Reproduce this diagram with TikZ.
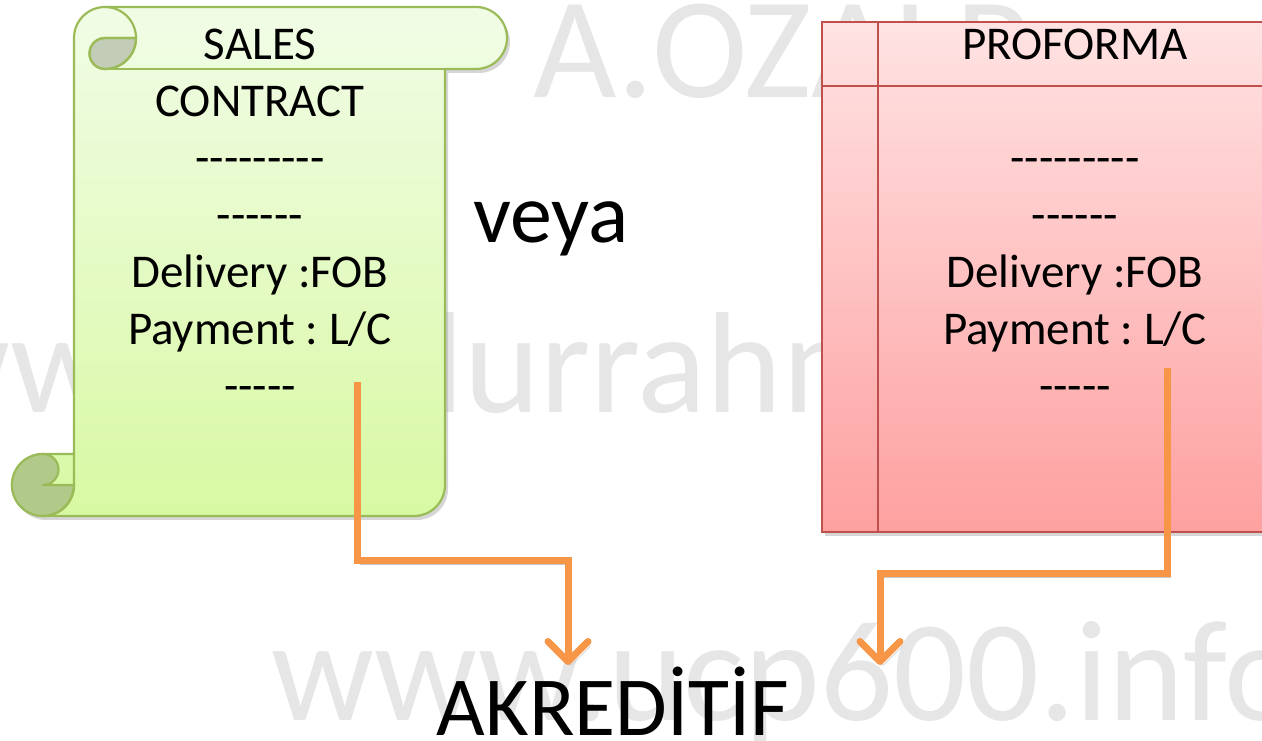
\documentclass[tikz,border=0pt]{standalone}
\usepackage{fontspec}
\newfontfamily\docfont{Carlito}
\usetikzlibrary{arrows.meta,positioning,calc}
\definecolor{scrollline}{RGB}{155,187,89}
\definecolor{scrolltop}{RGB}{241,252,230}
\definecolor{scrollbot}{RGB}{216,249,163}
\definecolor{curltop}{RGB}{195,204,183}
\definecolor{curlbot}{RGB}{177,201,137}
\definecolor{pfline}{RGB}{192,80,77}
\definecolor{pftop}{RGB}{255,227,227}
\definecolor{pfbot}{RGB}{254,160,160}
\definecolor{flowcol}{RGB}{247,150,70}
\definecolor{wmcol}{RGB}{230,230,230}
\newcommand{\doctext}{\docfont\frenchspacing\fontsize{47}{57}\selectfont}
\newcommand{\bigtext}{\docfont\fontsize{84}{84}\selectfont}

\begin{document}
\begin{tikzpicture}[x=1pt,y=1pt,
  wmark/.style={anchor=base west,inner sep=0,text=wmcol,font=\docfont\fontsize{144}{144}\selectfont},
  doc/.style={anchor=base,inner sep=0,align=center,font=\doctext},
  shadowed/.style={preaction={fill=black!40,opacity=.4,transform canvas={shift={(3,-4)}}}},
  scroll/.style={draw=scrollline,line width=2.2,line join=round},
  pform/.style={draw=pfline,line width=2.2},
  flow/.style={draw=flowcol,line width=7,line join=miter,
    -{Straight Barb[length=20pt,width=40pt,line cap=round,line join=round]},
    preaction={draw=black!22,transform canvas={shift={(3,-4)}}}}]
\useasboundingbox (0,0) rectangle (1262,740);
\clip (0,0) rectangle (1262,740);
\fill[white] (0,0) rectangle (1262,740);
% watermarks
\node[wmark] (wm1) at (533,642) {A.OZALP};
\node[wmark] (wm2) at (-93,327) {www.abdurrahmanozalp.com};
\node[wmark] (wm3) at (271,20)  {www.ucp600.info};
% sales contract scroll
\path[scroll,shadowed,top color=scrolltop,bottom color=scrollbot]
  (74,286) -- (74,702) arc[start angle=180,end angle=90,radius=31]
  -- (476,733) arc[start angle=90,end angle=-90,radius=31]
  -- (445,671) -- (445,255) arc[start angle=0,end angle=-90,radius=31]
  -- (43,224) arc[start angle=-90,end angle=-270,radius=31] -- cycle;
\path[scroll,fill=curltop] (136,702) arc[start angle=0,end angle=-90,radius=31]
  arc[start angle=-90,end angle=-270,radius=15.5] -- cycle;
\path[scroll,fill=curlbot] (74,255) arc[start angle=0,end angle=-270,radius=31]
  arc[start angle=90,end angle=-90,radius=15.5] -- cycle;
\draw[scroll] (105,733) arc[start angle=90,end angle=-90,radius=31]
  arc[start angle=-90,end angle=-270,radius=15.5] -- (136,702);
\draw[scroll] (445,671) -- (105,671);
\draw[scroll] (43,224) arc[start angle=-90,end angle=0,radius=31] -- (74,286);
% proforma
\path[pform,shadowed,top color=pftop,bottom color=pfbot] (822,718) rectangle (1300,208);
\draw[pform] (822,654) -- (1300,654)
             (878,718) -- (878,208);
% texts (base = last line)
\node[doc] (sales) at (260,338)
  {SALES\\CONTRACT\\---------\\------\\Delivery :FOB\\Payment : L/C\\-----};
\node[doc] (proforma) at (1075,338)
  {PROFORMA\\[57pt]---------\\------\\Delivery :FOB\\Payment : L/C\\-----};
\node[anchor=base west,inner sep=0,font=\bigtext] (veya) at (473,497) {veya};
\node[anchor=base,inner sep=0,font=\bigtext] (akreditif) at (613,5) {AKREDİTİF};
% connectors
\coordinate (lc1) at (357,358);
\coordinate (k1)  at (568,180);
\coordinate (t1)  at (568,75);
\coordinate (lc2) at (1167,372);
\coordinate (k2)  at (880,167);
\coordinate (t2)  at (880,75);
\draw[flow] (lc1) |- (k1) -- (t1);
\draw[flow] (lc2) |- (k2) -- (t2);
\end{tikzpicture}
\end{document}
